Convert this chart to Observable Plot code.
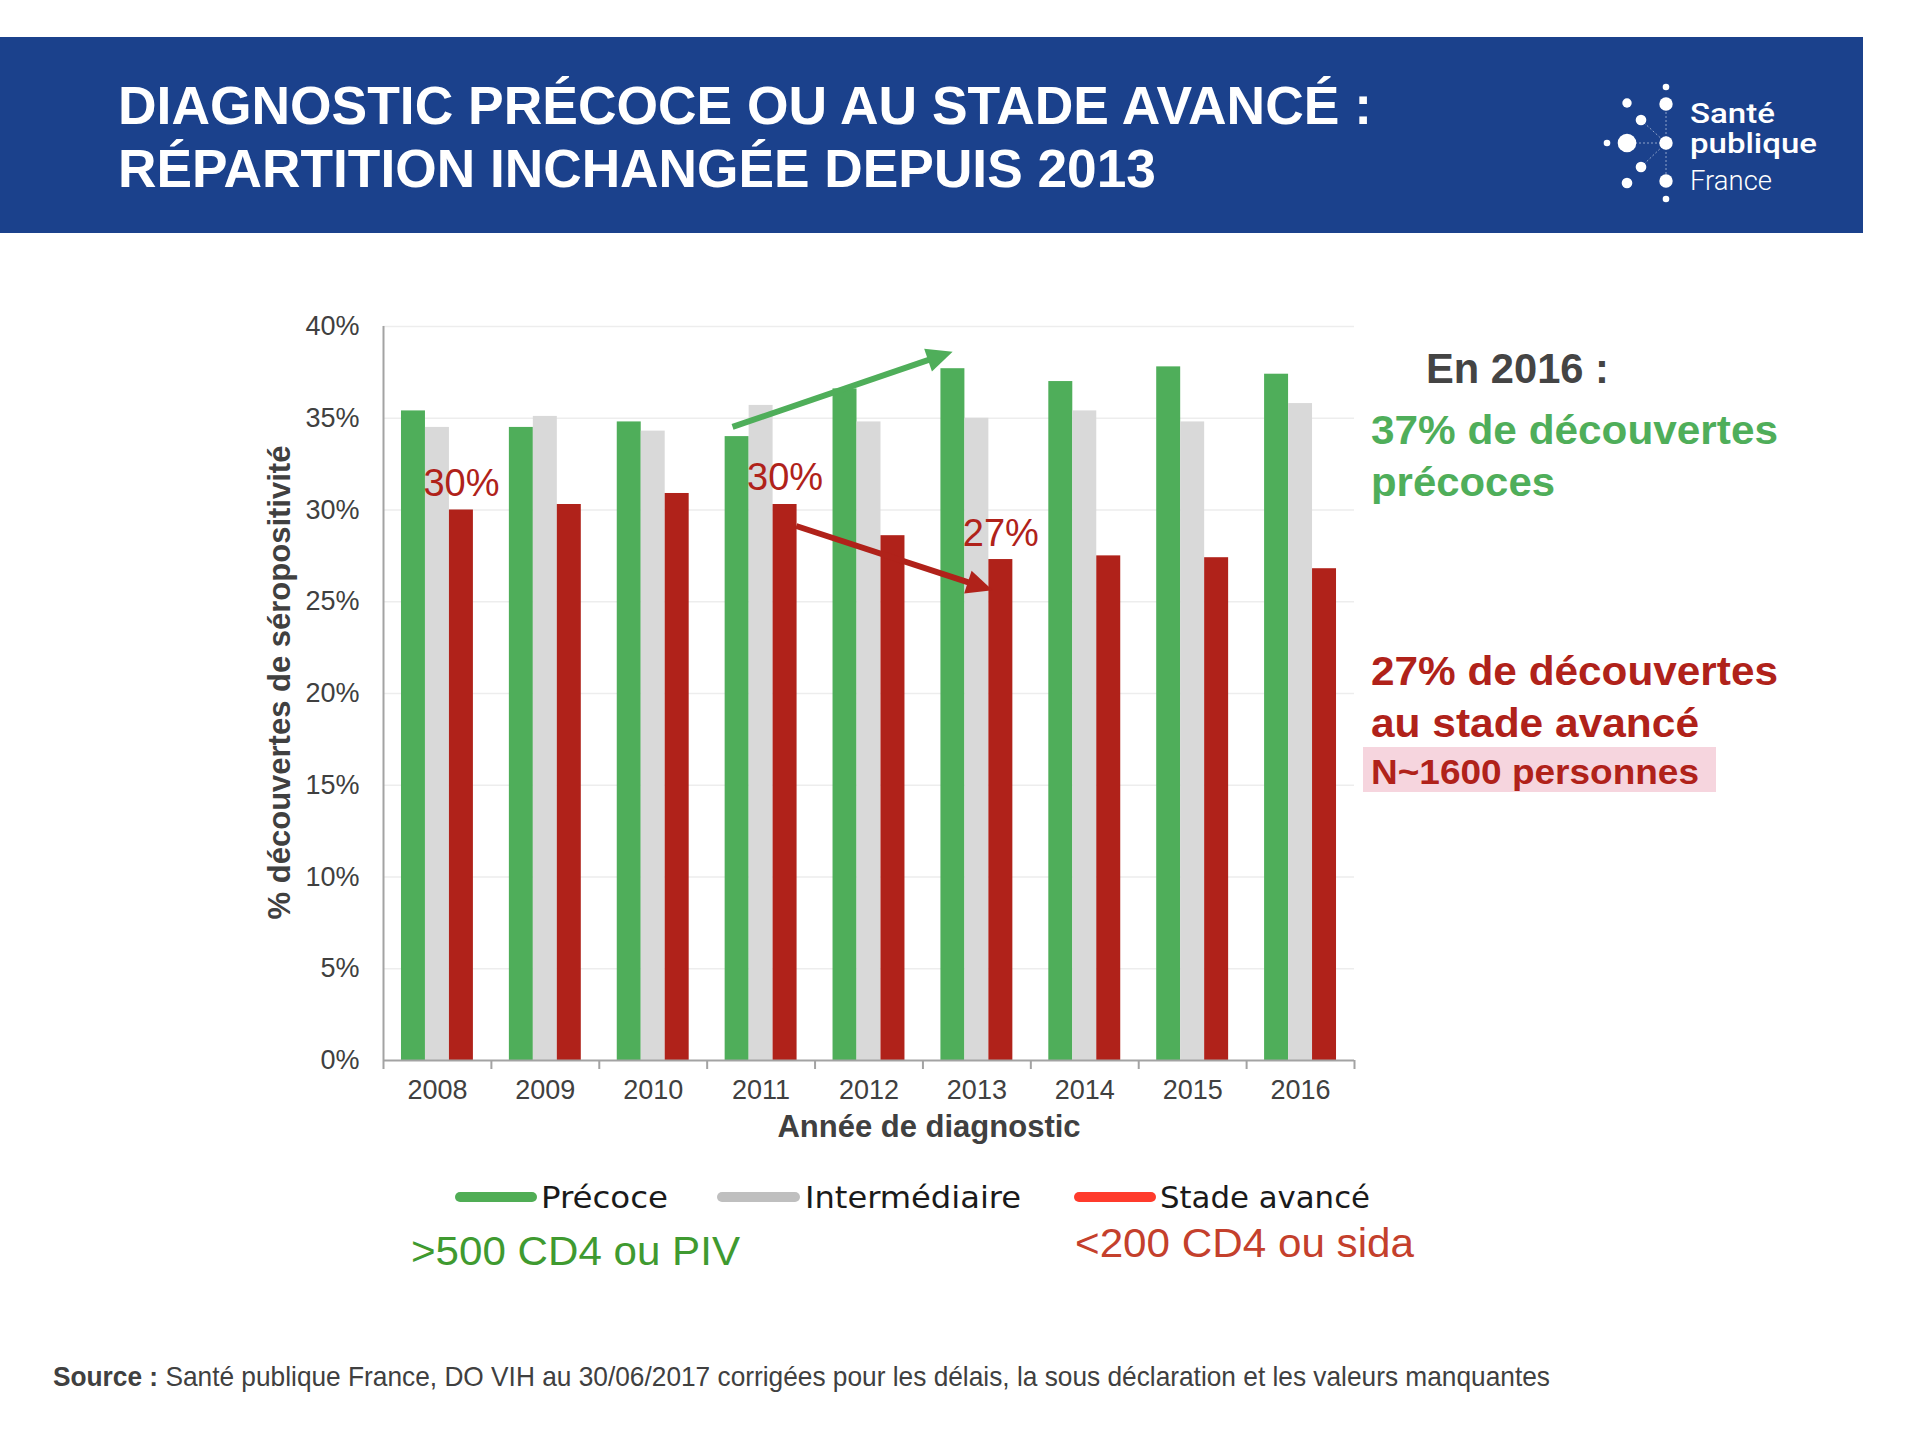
<!DOCTYPE html>
<html lang="fr">
<head>
<meta charset="utf-8">
<script src="https://cdn.jsdelivr.net/npm/d3@7"></script>
<script src="https://cdn.jsdelivr.net/npm/@observablehq/plot@0.6"></script>
<style>
  html, body { margin: 0; padding: 0; background: #ffffff; }
  #page { position: relative; width: 1916px; height: 1438px; overflow: hidden; background: #fff; }
  #overlay { position: absolute; left: 0; top: 0; }
  #chart { position: absolute; left: 0; top: 240px; }
</style>
</head>
<body>
<div id="page">
  <svg id="overlay" width="1916" height="1438"></svg>
  <div id="chart"></div>
</div>
<script>
// ---------------- data ----------------
const years = [2008, 2009, 2010, 2011, 2012, 2013, 2014, 2015, 2016];
const series = ["Précoce", "Intermédiaire", "Stade avancé"];
const precoce       = [35.4, 34.5, 34.8, 34.0, 36.6, 37.7, 37.0, 37.8, 37.4];
const intermediaire = [34.5, 35.1, 34.3, 35.7, 34.8, 35.0, 35.4, 34.8, 35.8];
const avance        = [30.0, 30.3, 30.9, 30.3, 28.6, 27.3, 27.5, 27.4, 26.8];
const yTicks = [0, 5, 10, 15, 20, 25, 30, 35, 40];
const labelYears = [2008, 2011, 2013];
const arrowSeries = ["Précoce", "Stade avancé"];
const arrowX1 = [2010.74, 2011.33];
const arrowY1 = [34.5, 29.1];
const arrowX2 = [2012.78, 2013.15];
const arrowY2 = [38.6, 25.6];
const legendNotes = [">500 CD4 ou PIV", "<200 CD4 ou sida"];

// ---------------- styles ----------------
const seriesColors = ["#4fae5a", "#d9d9d9", "#b0221a"];
const legendColors = ["#50ad55", "#bfbfbf", "#ff3b2c"];
const RED = "#b0221a", GREEN = "#4fae5a";

const valuesBySeries = [precoce, intermediaire, avance];
const rows = years.flatMap((yr, i) => series.map((s, j) => ({year: yr, series: s, k: j, value: valuesBySeries[j][i]})));
const groupW = 2 / 3, barW = groupW / 3;
const boundaries = years.map(y => y - 0.5).concat([years[years.length - 1] + 0.5]);
const labels = labelYears.map(yr => ({year: yr, value: avance[years.indexOf(yr)]}));
const arrows = arrowSeries.map((s, i) => ({series: s, x1: arrowX1[i], y1: arrowY1[i], x2: arrowX2[i], y2: arrowY2[i]}));

// filled-head arrows drawn through the plot's own x/y scales
function arrowMark(index, scales) {
  const g = d3.create("svg:g");
  for (const a of arrows) {
    const color = a.series === series[0] ? GREEN : RED;
    const x1 = scales.x(a.x1), y1 = scales.y(a.y1), x2 = scales.x(a.x2), y2 = scales.y(a.y2);
    const ang = Math.atan2(y2 - y1, x2 - x1), c = Math.cos(ang), s = Math.sin(ang);
    const L = 26, W = 12;
    const bx = x2 - L * c, by = y2 - L * s;
    g.append("line").attr("x1", x1).attr("y1", y1).attr("x2", bx + 3 * c).attr("y2", by + 3 * s)
      .attr("stroke", color).attr("stroke-width", 6);
    g.append("path").attr("d", `M${x2},${y2}L${bx - W * s},${by + W * c}L${bx + W * s},${by - W * c}Z`).attr("fill", color);
  }
  return g.node();
}

const chart = Plot.plot({
  width: 1400, height: 920,
  marginLeft: 383, marginRight: 46, marginTop: 86, marginBottom: 100,
  x: {domain: [boundaries[0], boundaries[boundaries.length - 1]]},
  y: {domain: [0, 40]},
  color: {domain: series, range: seriesColors},
  style: {fontFamily: "'Liberation Sans', Arial, sans-serif", fontSize: "27px", color: "#404040", background: "transparent", overflow: "visible"},
  marks: [
    Plot.gridY(yTicks.slice(1), {stroke: "#ededed", strokeOpacity: 1, strokeWidth: 1.5}),
    Plot.rect(rows, {
      x1: d => d.year - groupW / 2 + d.k * barW,
      x2: d => d.year - groupW / 2 + (d.k + 1) * barW,
      y1: 0, y2: "value", fill: "series"
    }),
    Plot.ruleY([0], {stroke: "#a3a3a3", strokeWidth: 2}),
    Plot.ruleX([boundaries[0]], {stroke: "#a3a3a3", strokeWidth: 2}),
    Plot.axisY({ticks: yTicks, tickFormat: d => d + "%", tickSize: 0, tickPadding: 24, label: null, fill: "#404040", fontSize: 27}),
    Plot.axisX({ticks: years, tickFormat: d => String(d), tickSize: 0, tickPadding: 19, label: null, fill: "#404040", fontSize: 27}),
    Plot.axisX({ticks: boundaries, tickFormat: () => "", tickSize: 9, stroke: "#a3a3a3", strokeWidth: 2, label: null}),
    Plot.text(labels, {
      x: d => d.year - groupW / 2 + 2.5 * barW, y: "value",
      text: d => d3.format(".0f")(d.value) + "%",
      dy: -14, lineAnchor: "bottom", fill: RED, fontSize: 38
    }),
    arrowMark,
    Plot.text(["% découvertes de séropositivité"], {
      frameAnchor: "left", textAnchor: "middle", rotate: -90, dx: -103, dy: -11,
      fontWeight: "bold", fontSize: 31, fill: "#404040"
    }),
    Plot.text(["Année de diagnostic"], {
      frameAnchor: "bottom", textAnchor: "middle", dx: 60, dy: 76,
      fontWeight: "bold", fontSize: 31, fill: "#404040"
    })
  ]
});
document.getElementById("chart").appendChild(chart);

// ---------------- overlay: header, annotations, legend, source ----------------
const svg = d3.select("#overlay");
const SANS = "'Liberation Sans', Arial, sans-serif";
function txt(str, x, y, opts = {}) {
  const t = svg.append("text").attr("x", x).attr("y", y)
    .attr("font-family", opts.family || SANS)
    .attr("font-size", opts.size || 30)
    .attr("font-weight", opts.weight || "normal")
    .attr("fill", opts.fill || "#404040")
    .text(str);
  if (opts.width) t.attr("textLength", opts.width).attr("lengthAdjust", "spacingAndGlyphs");
  return t;
}

// header band
svg.append("rect").attr("x", 0).attr("y", 37).attr("width", 1863).attr("height", 196).attr("fill", "#1b418c");
txt("DIAGNOSTIC PRÉCOCE OU AU STADE AVANCÉ :", 118, 124, {size: 53, weight: "bold", fill: "#fff", width: 1254});
txt("RÉPARTITION INCHANGÉE DEPUIS 2013", 118, 187, {size: 53, weight: "bold", fill: "#fff", width: 1038});

// logo
const logo = svg.append("g");
const links = [[1666,104,1666,181],[1627,143,1666,143],[1641,120,1666,143],[1641,167,1666,143]];
links.forEach(l => logo.append("line").attr("x1", l[0]).attr("y1", l[1]).attr("x2", l[2]).attr("y2", l[3])
  .attr("stroke", "#8fa3c9").attr("stroke-width", 1).attr("stroke-dasharray", "2,2"));
const dots = [[1666,87,3.3],[1666,104,6.7],[1627,103,4.7],[1641,120,5.3],[1666,143,6.7],[1627,143,9.3],
              [1607,143,3.3],[1641,167,5.3],[1627,183,5.3],[1666,181,6.7],[1666,199,3.3]];
dots.forEach(d => logo.append("circle").attr("cx", d[0]).attr("cy", d[1]).attr("r", d[2]).attr("fill", "#fff"));
txt("Santé", 1690, 123, {family: "Roboto, 'Open Sans', sans-serif", size: 28, weight: 500, fill: "#fff", width: 85});
txt("publique", 1690, 153, {family: "Roboto, 'Open Sans', sans-serif", size: 28, weight: 500, fill: "#fff", width: 127});
txt("France", 1690, 190, {family: "Roboto, 'Open Sans', sans-serif", size: 27, weight: 300, fill: "#fff", width: 82});

// right annotations
txt("En 2016 :", 1426, 383, {size: 42, weight: "bold", fill: "#444444", width: 183});
txt("37% de découvertes", 1371, 444, {size: 41, weight: "bold", fill: GREEN, width: 407});
txt("précoces", 1371, 496, {size: 41, weight: "bold", fill: GREEN, width: 184});
txt("27% de découvertes", 1371, 685, {size: 41, weight: "bold", fill: RED, width: 407});
txt("au stade avancé", 1371, 737, {size: 41, weight: "bold", fill: RED, width: 328});
svg.append("rect").attr("x", 1363).attr("y", 747).attr("width", 353).attr("height", 45).attr("fill", "#f6d5de");
txt("N~1600 personnes", 1371, 784, {size: 35, weight: "bold", fill: RED, width: 328});

// legend
const legendPos = [{lx1: 460, lx2: 532, tx: 541, tw: 127}, {lx1: 722, lx2: 795, tx: 805, tw: 216}, {lx1: 1079, lx2: 1151, tx: 1160, tw: 210}];
series.forEach((s, i) => {
  const p = legendPos[i];
  svg.append("line").attr("x1", p.lx1).attr("x2", p.lx2).attr("y1", 1197).attr("y2", 1197)
    .attr("stroke", legendColors[i]).attr("stroke-width", 10).attr("stroke-linecap", "round");
  txt(s, p.tx, 1208, {family: "'DejaVu Sans Condensed', 'DejaVu Sans', sans-serif", size: 31, fill: "#1a1a1a", width: p.tw});
});
txt(legendNotes[0], 411, 1265, {size: 40, fill: "#3f9a30", width: 329});
txt(legendNotes[1], 1075, 1257, {size: 40, fill: "#c4402c", width: 339});

// source
const src = svg.append("text").attr("x", 53).attr("y", 1386).attr("font-family", SANS).attr("font-size", 28).attr("fill", "#404040")
  .attr("textLength", 1497).attr("lengthAdjust", "spacingAndGlyphs");
src.append("tspan").attr("font-weight", "bold").text("Source :");
src.append("tspan").text(" Santé publique France, DO VIH au 30/06/2017 corrigées pour les délais, la sous déclaration et les valeurs manquantes");
</script>
</body>
</html>
